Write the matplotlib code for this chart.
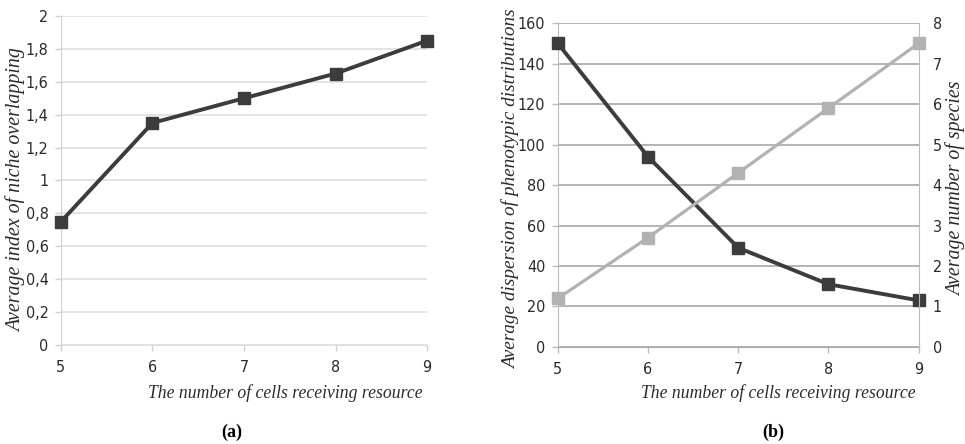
import matplotlib
matplotlib.use("Agg")
import matplotlib.pyplot as plt
from matplotlib import font_manager

cells = [5, 6, 7, 8, 9]
niche_overlap = [0.75, 1.35, 1.5, 1.65, 1.85]
dispersion = [150, 94, 49, 31, 23]
species = [1.2, 2.7, 4.3, 5.9, 7.5]

left_ticks = [0, 0.2, 0.4, 0.6, 0.8, 1, 1.2, 1.4, 1.6, 1.8, 2]
left_tick_labels = ["0", "0,2", "0,4", "0,6", "0,8", "1", "1,2", "1,4", "1,6", "1,8", "2"]
disp_ticks = [0, 20, 40, 60, 80, 100, 120, 140, 160]
species_ticks = [0, 1, 2, 3, 4, 5, 6, 7, 8]

fl = font_manager.fontManager.ttflist
names = {f.name for f in fl}
tick_kw = {"fontfamily": "Liberation Sans", "fontsize": 12}
if "Liberation Sans Narrow" in names:
    tick_kw = {"fontfamily": "Liberation Sans Narrow", "fontsize": 13}
elif any(f.name == "DejaVu Sans" and str(f.stretch) in ("condensed", "semi-condensed") for f in fl):
    tick_kw = {"fontfamily": "DejaVu Sans", "fontstretch": "condensed", "fontsize": 11.5}
serif_font = "Liberation Serif"

dark = "#3c3c3c"
light = "#b2b2b2"
W, H = 965, 444

fig = plt.figure(figsize=(9.65, 4.44), dpi=100)

def set_tick_font(labels):
    for lab in labels:
        lab.set_fontfamily(tick_kw["fontfamily"])
        lab.set_fontsize(tick_kw["fontsize"])
        if "fontstretch" in tick_kw:
            lab.set_fontstretch(tick_kw["fontstretch"])

def style(ax, gridcolor, spinecolor):
    ax.set_xlim(5, 9)
    ax.set_xticks(cells)
    ax.grid(axis="y", color=gridcolor, linewidth=1.2)
    ax.set_axisbelow(True)
    for s in ["top", "right"]:
        ax.spines[s].set_visible(False)
    ax.spines["left"].set_color(spinecolor)
    ax.spines["bottom"].set_color(gridcolor)
    ax.tick_params(axis="both", colors=spinecolor, length=4, width=1, labelcolor="#2a2a2a")
    ax.tick_params(axis="x", pad=7)
    ax.tick_params(axis="y", pad=5)
    set_tick_font(ax.get_xticklabels() + ax.get_yticklabels())

def italic(x, y, s, size, **kw):
    fig.text(x / W, 1 - y / H, s, fontfamily=serif_font, fontstyle="italic",
             fontsize=size, color="#2a2a2a", **kw)

# Panel (a)
ax1 = fig.add_axes([0.0632, 0.223, 0.3793, 0.741])
ax1.plot(cells, niche_overlap, color=dark, linewidth=2.8, marker="s", markersize=8, clip_on=False, zorder=5)
ax1.set_ylim(0, 2)
ax1.set_yticks(left_ticks)
ax1.set_yticklabels(left_tick_labels)
style(ax1, "#dedede", "#d0d0d0")
italic(423, 393, "The number of cells receiving resource", 12.7, ha="right", va="center")
italic(16, 332, "Average index of niche overlapping", 14.3, rotation=90, ha="center", va="bottom")
fig.text(232 / W, 1 - 432 / H, "(a)", fontfamily=serif_font, fontweight="bold", fontsize=13,
         ha="center", va="center")

# Panel (b)
ax2 = fig.add_axes([0.578, 0.2185, 0.374, 0.7295])
ax2.plot(cells, dispersion, color=dark, linewidth=2.8, marker="s", markersize=8, clip_on=False, zorder=5)
ax2.set_ylim(0, 160)
ax2.set_yticks(disp_ticks)
style(ax2, "#a8a8a8", "#bcbcbc")
italic(916, 393, "The number of cells receiving resource", 12.7, ha="right", va="center")
italic(511, 369, "Average dispersion of phenotypic distributions", 13.9, rotation=90, ha="center", va="bottom")

ax3 = ax2.twinx()
ax3.plot(cells, species, color=light, linewidth=2.3, marker="s", markersize=8, clip_on=False, zorder=4)
ax3.set_ylim(0, 8)
ax3.set_yticks(species_ticks)
for s in ["top", "left", "bottom"]:
    ax3.spines[s].set_visible(False)
ax3.spines["right"].set_color("#bcbcbc")
ax3.tick_params(axis="y", colors="#bcbcbc", length=0, pad=10, labelcolor="#2a2a2a")
set_tick_font(ax3.get_yticklabels())
italic(956, 189, "Average number of species", 14.3, rotation=90, ha="center", va="center")
fig.text(773 / W, 1 - 432 / H, "(b)", fontfamily=serif_font, fontweight="bold", fontsize=13,
         ha="center", va="center")

fig.savefig("out.png", dpi=100)
